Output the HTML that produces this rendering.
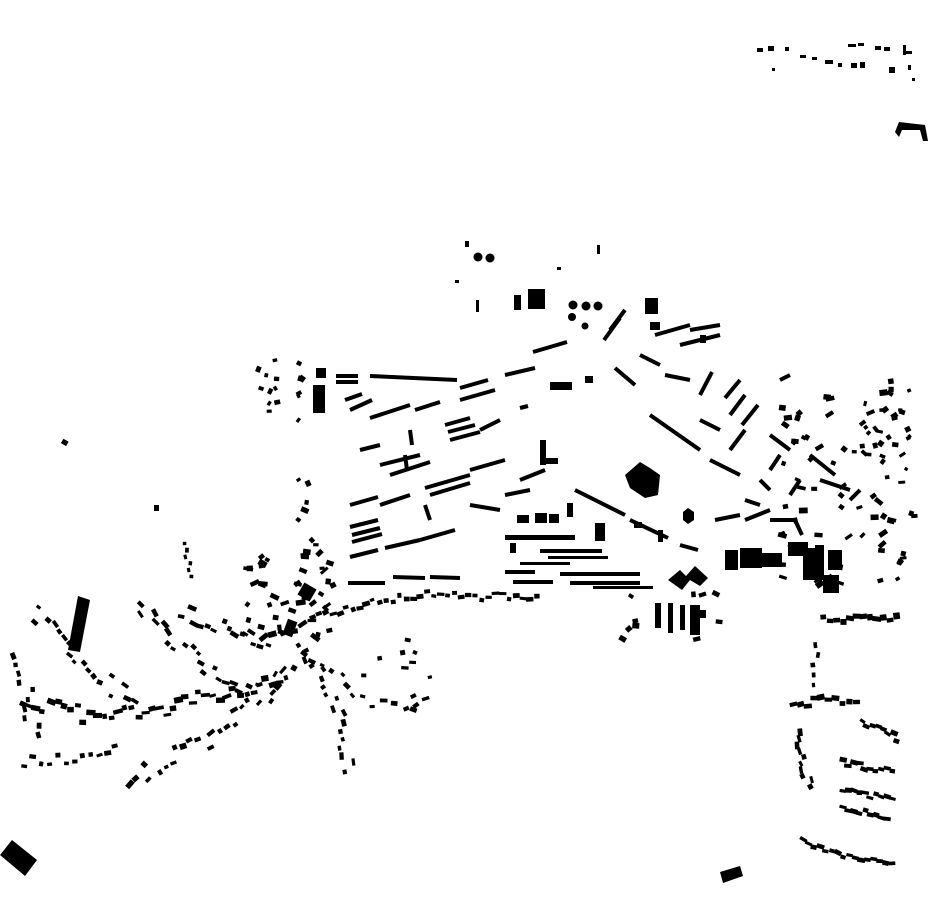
<!DOCTYPE html>
<html><head><meta charset="utf-8"><style>
html,body{margin:0;padding:0;background:#fff;width:930px;height:924px;overflow:hidden}
svg{display:block}
</style></head><body>
<svg id="s" width="930" height="924" viewBox="0 0 930 924" xmlns="http://www.w3.org/2000/svg">
<g fill="#000" stroke="none">
<!-- top right -->
<rect x="757" y="48" width="6" height="4"/><rect x="768" y="46" width="6" height="5"/><rect x="785" y="47" width="4" height="4"/>
<rect x="800" y="55" width="6" height="3"/><rect x="812" y="57" width="5" height="3"/><rect x="825" y="60" width="8" height="4"/>
<rect x="838" y="63" width="4" height="4"/><rect x="851" y="63" width="6" height="5"/><rect x="860" y="62" width="5" height="6"/>
<rect x="772" y="68" width="3" height="3"/><rect x="848" y="44" width="8" height="3"/><rect x="858" y="43" width="6" height="3"/>
<rect x="875" y="46" width="6" height="4"/><rect x="884" y="47" width="6" height="4"/><rect x="903" y="45" width="3" height="10"/>
<rect x="905" y="51" width="7" height="3"/><rect x="889" y="67" width="6" height="6"/><rect x="908" y="65" width="3" height="5"/><rect x="912" y="78" width="3" height="3"/>
<polygon points="895,132 899,122 925,125 928,141 923,141 920,130 902,130 899,137"/>
<!-- north center -->
<circle cx="478" cy="257" r="4.5"/><circle cx="490" cy="258" r="4.5"/>
<rect x="465" y="241" width="4" height="6"/><rect x="597" y="245" width="3" height="9"/><rect x="557" y="267" width="4" height="3"/>
<rect x="455" y="280" width="4" height="3"/><rect x="476" y="300" width="3" height="12"/><rect x="514" y="295" width="7" height="15"/><rect x="528" y="289" width="17" height="20"/>
<circle cx="573" cy="305" r="4.5"/><circle cx="586" cy="306" r="4.5"/><circle cx="598" cy="306" r="4.5"/><circle cx="572" cy="317" r="4"/><circle cx="585" cy="326" r="3.5"/>
<rect x="645" y="298" width="13" height="16"/><rect x="650" y="322" width="10" height="8"/><rect x="700" y="335" width="6" height="8"/>
<!-- big blocks -->
<polygon points="0,855 12,840 37,860 25,876"/>
<polygon points="720,872 740,866 743,876 723,883"/>
<polygon points="625,475 640,462 650,468 660,475 658,495 645,498 630,488"/>
<polygon points="683,512 688,508 694,512 694,520 688,524 683,520"/>
<rect x="634" y="522" width="8" height="6"/><rect x="658" y="530" width="5" height="12"/>
<rect x="517" y="515" width="12" height="8"/><rect x="535" y="513" width="12" height="10"/><rect x="549" y="514" width="10" height="9"/>
<rect x="567" y="503" width="6" height="14"/><rect x="595" y="523" width="10" height="18"/><rect x="505" y="535" width="70" height="5"/>
<rect x="510" y="543" width="6" height="10"/><rect x="540" y="549" width="62" height="4"/><rect x="548" y="556" width="60" height="3"/>
<rect x="520" y="562" width="50" height="3"/><rect x="505" y="570" width="30" height="4"/><rect x="513" y="580" width="40" height="4"/>
<rect x="560" y="572" width="80" height="4"/><rect x="570" y="581" width="70" height="4"/><rect x="593" y="586" width="60" height="3"/>
<polygon points="668,580 680,570 686,576 695,566 708,578 700,586 690,580 682,590"/>
<rect x="725" y="550" width="13" height="20"/><rect x="740" y="548" width="22" height="20"/><rect x="760" y="553" width="22" height="14"/>
<rect x="788" y="542" width="20" height="14"/><rect x="803" y="548" width="12" height="32"/><rect x="815" y="545" width="9" height="35"/>
<rect x="823" y="575" width="16" height="18"/><rect x="828" y="550" width="14" height="20"/>
<rect x="655" y="603" width="6" height="25"/><rect x="668" y="603" width="5" height="30"/><rect x="680" y="605" width="5" height="25"/><rect x="690" y="605" width="10" height="30"/><rect x="700" y="610" width="6" height="8"/>
<rect x="540" y="440" width="6" height="25"/><rect x="540" y="458" width="18" height="6"/>
<rect x="550" y="382" width="22" height="8"/><rect x="585" y="376" width="8" height="7"/>
<rect x="313" y="385" width="12" height="28"/><rect x="316" y="368" width="10" height="10"/>
<rect x="62" y="440" width="6" height="5" transform="rotate(30 65 442)"/><rect x="154" y="505" width="5" height="6"/>
<polygon points="68,650 78,596 90,600 80,652"/>
<rect x="300" y="585" width="14" height="14" transform="rotate(30 307 592)"/>
<rect x="285" y="620" width="10" height="16" transform="rotate(20 290 628)"/>
</g>
<g id="bars" stroke="#000" stroke-width="4" stroke-linecap="butt"></g>
<g id="dots" fill="#000"></g>
</svg>
<script>
var bars=[
[370,376,457,380],[460,388,488,380],[505,375,535,368],[533,352,567,342],[336,376,358,376],[336,382,358,382],
[370,418,410,405],[415,410,440,402],[460,400,495,390],[350,410,372,400],[345,400,362,394],[520,408,528,406],
[445,425,470,418],[448,432,475,425],[450,440,480,432],[480,430,500,420],[360,450,380,445],[380,465,420,455],
[390,475,430,462],[425,488,470,475],[470,470,505,460],[350,505,378,497],[380,505,410,495],[430,495,470,483],
[350,527,378,520],[352,535,380,528],[352,542,382,534],[385,548,420,540],[420,540,455,530],[350,557,378,550],
[348,583,385,583],[393,577,425,578],[430,577,460,578],[470,505,500,510],[505,495,530,490],[520,480,545,470],
[615,368,635,385],[650,415,700,450],[575,490,625,515],[630,520,668,538],[700,395,712,372],[725,398,740,380],
[730,415,745,395],[742,425,758,405],[730,450,745,430],[710,460,740,475],[770,435,790,450],[810,455,835,475],
[745,500,760,505],[715,520,740,515],[745,520,770,510],[770,520,795,520],[795,520,802,535],[680,545,698,550],
[604,340,620,318],[610,330,625,310],[655,335,690,325],[680,345,720,335],[690,330,720,325],[640,355,660,365],
[665,375,690,380],[770,470,780,455],[790,495,800,480],[760,480,770,490],[700,420,720,430],[410,430,412,445],[405,455,407,470],
[425,505,430,520],[820,480,850,490],[850,500,860,490],[780,380,790,375]];
var g=document.getElementById('bars');
bars.forEach(function(b){var l=document.createElementNS('http://www.w3.org/2000/svg','line');
l.setAttribute('x1',b[0]);l.setAttribute('y1',b[1]);l.setAttribute('x2',b[2]);l.setAttribute('y2',b[3]);g.appendChild(l);});
var seed=12345;function r(){seed=(seed*1103515245+12345)&0x7fffffff;return seed/0x7fffffff;}
var d=document.getElementById('dots');
function rect(x,y,w,h,a){var e=document.createElementNS('http://www.w3.org/2000/svg','rect');
e.setAttribute('x',(x-w/2).toFixed(1));e.setAttribute('y',(y-h/2).toFixed(1));e.setAttribute('width',w.toFixed(1));e.setAttribute('height',h.toFixed(1));
e.setAttribute('transform','rotate('+a.toFixed(1)+' '+x.toFixed(1)+' '+y.toFixed(1)+')');d.appendChild(e);}
function along(p,n,j,w0,w1,h0,h1){var L=[0];for(var i=1;i<p.length;i++){L.push(L[i-1]+Math.hypot(p[i][0]-p[i-1][0],p[i][1]-p[i-1][1]));}
var T=L[L.length-1];for(var k=0;k<n;k++){var s=T*(k+0.5)/n;var i=1;while(i<p.length-1&&L[i]<s)i++;
var f=(s-L[i-1])/(L[i]-L[i-1]);var dx=p[i][0]-p[i-1][0],dy=p[i][1]-p[i-1][1],ln=Math.hypot(dx,dy);
var x=p[i-1][0]+dx*f,y=p[i-1][1]+dy*f;var o=(r()*2-1)*j;x+=-dy/ln*o;y+=dx/ln*o;
rect(x,y,w0+r()*(w1-w0),h0+r()*(h1-h0),Math.atan2(dy,dx)*180/Math.PI+(r()-0.5)*20);}}
function area(x0,y0,x1,y1,n,w0,w1,h0,h1){for(var k=0;k<n;k++)rect(x0+r()*(x1-x0),y0+r()*(y1-y0),w0+r()*(w1-w0),h0+r()*(h1-h0),(r()-0.5)*90);}
along([[20,700],[60,710],[100,715],[150,710],[200,700],[250,690],[290,680]],40,10,4,10,3,6);
along([[30,610],[60,640],[100,680],[140,700]],18,10,4,8,3,5);
along([[140,600],[170,640],[210,670],[260,690]],20,10,4,9,3,5);
along([[180,610],[230,630],[270,650]],14,8,4,9,3,5);
along([[290,660],[260,700],[210,740],[150,770],[130,790]],26,10,4,9,3,6);
along([[300,640],[320,680],[340,720],[350,775]],18,8,4,8,3,5);
along([[20,760],[80,760],[120,750]],12,8,4,7,3,5);
along([[20,650],[30,700],[35,740]],10,8,4,7,3,5);
along([[310,620],[340,610],[380,600],[420,595],[460,597],[500,597],[540,600]],34,4,4,8,3,5);
along([[300,650],[330,670],[360,700],[400,705],[430,695]],14,6,4,8,3,5);
area(245,550,335,640,45,4,10,3,6);
area(255,360,305,425,16,3,6,3,6);
area(295,475,335,560,10,4,8,3,6);
along([[790,705],[830,700],[860,700]],10,4,5,9,4,6);
along([[795,730],[800,760],[810,790]],10,5,5,8,3,5);
along([[860,720],[900,740]],8,4,5,8,3,5);
along([[840,762],[895,772]],10,3,5,8,3,5);
along([[840,790],[895,800]],10,3,5,8,3,5);
along([[840,808],[890,818]],9,3,5,8,3,5);
along([[800,840],[840,855],[895,862]],16,3,5,8,3,5);
along([[820,620],[900,618]],12,3,5,9,4,7);
along([[815,640],[815,690]],5,3,4,6,3,5);
area(780,390,915,590,70,4,9,3,6);
area(855,380,915,470,25,3,7,3,6);
area(620,590,720,640,10,4,8,3,6);
area(360,640,430,710,10,4,8,3,5);
along([[187,540],[190,580]],6,3,3,5,3,4);
</script>
</body></html>
